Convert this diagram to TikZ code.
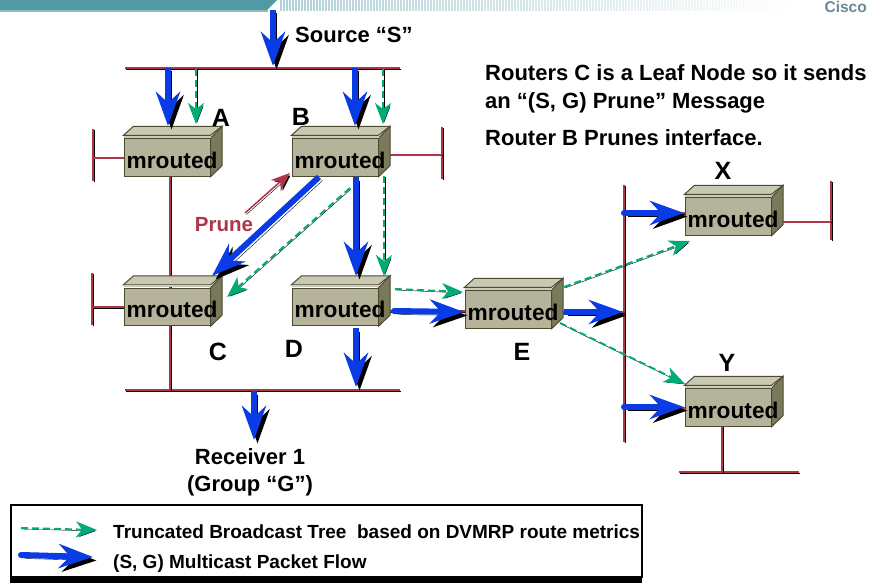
\documentclass[tikz,border=0pt]{standalone}
\usepackage{fontspec}
\setmainfont{Liberation Sans}
\usetikzlibrary{arrows.meta,backgrounds}
\definecolor{busred}{HTML}{AD3549}
\definecolor{flowblue}{HTML}{0A3CE6}
\definecolor{treegreen}{HTML}{00AB78}
\definecolor{bannerteal}{HTML}{5199A3}
\definecolor{boxfront}{HTML}{B5B49A}
\definecolor{boxtop}{HTML}{C9C8B0}
\definecolor{boxside}{HTML}{7A795A}
\definecolor{boxedge}{HTML}{4C4A32}
\tikzset{
  bus/.style={line width=2pt, draw=busred, preaction={draw=black, transform canvas={shift={(1pt,-1pt)}}}},
  flow/.style={line width=6pt, draw=flowblue, -{Stealth[length=34pt,width=24pt,inset=11pt]},
    preaction={draw=black, transform canvas={shift={(3.5pt,-3.5pt)}}}},
  tree/.style={line width=2pt, draw=treegreen, dash pattern=on 7pt off 4pt, -{Stealth[length=21pt,width=16pt,inset=6pt]},
    preaction={draw=black, transform canvas={shift={(1pt,-1pt)}}}},
  prune/.style={line width=1.5pt, draw=busred, -{Stealth[length=19pt,width=15pt,inset=6pt]},
    preaction={draw=black, transform canvas={shift={(1.5pt,-1.5pt)}}}},
  routerbox/.style={draw=boxedge, fill=boxfront, line width=1pt, minimum width=86pt, minimum height=37.5pt, inner sep=0pt},
  routertext/.style={anchor=west, inner sep=3pt, yshift=-2.5pt, font=\fontsize{22.7}{24}\selectfont\bfseries},
  lab/.style={inner sep=0pt, font=\fontsize{25}{27}\selectfont\bfseries},
  txt/.style={inner sep=0pt, align=left, font=\fontsize{22}{27.5}\selectfont\bfseries},
  legendtxt/.style={anchor=west, inner sep=0pt, font=\fontsize{19}{21}\selectfont\bfseries}
}
\newcommand{\router}[2]{%
  \node[routerbox] (#1) at (#2) {};
  \filldraw[draw=boxedge, fill=boxtop, line width=1pt] ([yshift=3pt]#1.north west) -- ([xshift=10pt,yshift=12pt]#1.north west)
    -- ([xshift=11.5pt,yshift=12pt]#1.north east) -- ([yshift=3pt]#1.north east) -- cycle;
  \filldraw[draw=boxedge, fill=boxside, line width=1pt] (#1.north east) -- ([xshift=11.5pt,yshift=12pt]#1.north east)
    -- ([xshift=11.5pt,yshift=11pt]#1.south east) -- (#1.south east) -- cycle;
  \draw[boxfront!70!white, line width=2pt] ([yshift=1.4pt]#1.north west) -- ([yshift=1.4pt]#1.north east);
  \node[routertext] (#1text) at (#1.west) {mrouted};
}
\begin{document}
\begin{tikzpicture}[x=1pt,y=-1pt]
  \useasboundingbox (0,0) rectangle (869,583);
  \clip (0,0) rectangle (869,583);

  % banner
  \foreach \x in {280,283,...,800}{
    \pgfmathsetmacro{\pct}{max(0,45-(\x-280)/11.5)}
    \fill[bannerteal!\pct!white] (\x,0) rectangle (\x+1.6,11);
  }
  \fill[bannerteal!65!white] (0,10) rectangle (268,12);
  \fill[bannerteal] (0,0) -- (277,0) -- (267,10) -- (0,10) -- cycle;
  \node[text=bannerteal!50!gray, font=\fontsize{15.5}{16}\selectfont\bfseries, inner sep=0pt, anchor=east] (logo) at (867,6.5) {Cisco};

  % routers
  \router{A}{167,157.5}
  \router{B}{335,157.5}
  \router{C}{167,307}
  \router{D}{335,307}
  \router{E}{508,309.5}
  \router{X}{728,216.5}
  \router{Y}{728,407.5}

  % coordinates of the free ends
  \coordinate (topL) at (125,68);
  \coordinate (topR) at (400,68);
  \coordinate (lowL) at (125,390);
  \coordinate (lowR) at (400,390);
  \coordinate (midT) at (624,185);
  \coordinate (midB) at (624,442);
  \coordinate (yL) at (679,472);
  \coordinate (yR) at (799,472);
  \coordinate (stubAt) at (93,129);
  \coordinate (stubAb) at (93,181);
  \coordinate (stubBt) at (442,127);
  \coordinate (stubBb) at (442,179);
  \coordinate (stubCt) at (92,273);
  \coordinate (stubCb) at (92,325);
  \coordinate (stubXt) at (831,181);
  \coordinate (stubXb) at (831,240);

  % LAN segments and branches, behind the routers
  \begin{scope}[on background layer]
    \fill[white] (0,0) rectangle (869,583);
    \draw[bus] (topL) -- (topR);
    \draw[bus] (lowL) -- (lowR);
    \draw[bus] (midT) -- (midB);
    \draw[bus] (yL) -- (yR);
    \draw[bus] (stubAt) -- (stubAb);
    \draw[bus] (stubBt) -- (stubBb);
    \draw[bus] (stubCt) -- (stubCb);
    \draw[bus] (stubXt) -- (stubXb);
    \draw[bus] ([xshift=3pt]A.center) -- ([xshift=3pt]C.center);
    \draw[bus] ([xshift=3pt]C.center) -- ([xshift=3pt]C.center |- lowL);
    \draw[bus] (A.center) -- (A.center -| stubAt);
    \draw[bus] ([yshift=3pt]B.east) -- ([yshift=3pt]B.east -| stubBt);
    \draw[bus] (C.center) -- (C.center -| stubCt);
    \draw[bus] ([yshift=-5pt]X.east) -- ([yshift=-5pt]X.east -| stubXt);
    \draw[bus] ([xshift=-6pt]Y.center) -- ([xshift=-6pt]Y.center |- yL);
    \draw[bus] ([yshift=-4pt]D.east) -- ([yshift=-4pt]D.east -| E.west);
    \draw[bus] ([yshift=-2.5pt]E.east) -- ([yshift=-2.5pt]E.east -| midT);
    \draw[bus] ([yshift=3.5pt]X.west) -- ([yshift=3.5pt]X.west -| midT);
    \draw[bus] (Y.west) -- (Y.west -| midT);
  \end{scope}

  % ends of the blue arrows
  \coordinate (srcS) at (273,10);
  \coordinate (srcT) at (273,66);
  \coordinate (aS) at (168,68);
  \coordinate (aT) at (168,126);
  \coordinate (bS) at (355,68);
  \coordinate (bT) at (355,126);
  \coordinate (bcS) at (319,177);
  \coordinate (bcT) at (212,276);
  \coordinate (bdS) at (356,177);
  \coordinate (bdT) at (356,276);
  \coordinate (dlS) at (356,328);
  \coordinate (dlT) at (356,387);
  \coordinate (rcS) at (254,391);
  \coordinate (rcT) at (254,440);
  \coordinate (deS) at (394,311);
  \coordinate (deT) at (464,312);
  \coordinate (emS) at (564,312);
  \coordinate (emT) at (623,312);
  \coordinate (mxS) at (624,213);
  \coordinate (mxT) at (684,213);
  \coordinate (myS) at (624,407);
  \coordinate (myT) at (684,407);
  \draw[flow] (srcS) -- (srcT);
  \draw[flow] (aS) -- (aT);
  \draw[flow] (bS) -- (bT);
  \draw[flow] (bcS) -- (bcT);
  \draw[flow] (bdS) -- (bdT);
  \draw[flow] (dlS) -- (dlT);
  \draw[flow] (rcS) -- (rcT);
  \draw[flow, line cap=round] (deS) -- (deT);
  \draw[flow] (emS) -- (emT);
  \draw[flow, line cap=round] (mxS) -- (mxT);
  \draw[flow, line cap=round] (myS) -- (myT);

  % ends of the green arrows
  \coordinate (gaS) at (196,69);
  \coordinate (gaT) at (196,124);
  \coordinate (gbS) at (383,69);
  \coordinate (gbT) at (383,124);
  \coordinate (gcS) at (350,188);
  \coordinate (gcT) at (227,297);
  \coordinate (gdS) at (384,176);
  \coordinate (gdT) at (384,276);
  \coordinate (geS) at (395,289);
  \coordinate (geT) at (463,292);
  \coordinate (gxS) at (564,287);
  \coordinate (gxT) at (690,241);
  \coordinate (gyS) at (560,323);
  \coordinate (gyT) at (685,384);
  \draw[tree] (gaS) -- (gaT);
  \draw[tree] (gbS) -- (gbT);
  \draw[tree] (gcS) -- (gcT);
  \draw[tree] (gdS) -- (gdT);
  \draw[tree] (geS) -- (geT);
  \draw[tree] (gxS) -- (gxT);
  \draw[tree] (gyS) -- (gyT);

  % prune message
  \coordinate (prS) at (245,213);
  \coordinate (prT) at (290,173);
  \draw[prune] (prS) -- (prT);
  \node[text=busred, inner sep=0pt, font=\fontsize{20.5}{22}\selectfont\bfseries] (pruneLabel) at (224,225) {Prune};

  % labels
  \node[lab] (labA) at (221,118) {A};
  \node[lab] (labB) at (301,117) {B};
  \node[lab] (labC) at (218,352) {C};
  \node[lab] (labD) at (294,349) {D};
  \node[lab] (labE) at (522,352) {E};
  \node[lab] (labX) at (723,171) {X};
  \node[lab] (labY) at (727,363) {Y};
  \node[txt, anchor=west] (source) at (295,35) {Source “S”};
  \node[txt, align=center] (receiver) at (250,472.5) {Receiver 1\\(Group “G”)};
  \node[txt, anchor=west] (note) at (485,89) {Routers C is a Leaf Node so it sends\\an “(S, G) Prune” Message};
  \node[txt, anchor=west] (note2) at (485,138) {Router B Prunes interface.};

  % legend
  \coordinate (legNW) at (11,505);
  \coordinate (legSE) at (642,577);
  \coordinate (legBot) at (10,583);
  \draw[black, line width=1.5pt] (legNW) rectangle (legSE);
  \fill[black] (legBot) rectangle (legSE);
  \coordinate (legGs) at (21,528);
  \coordinate (legGt) at (97,530);
  \coordinate (legBs) at (21,555);
  \coordinate (legBt) at (93,557);
  \draw[tree] (legGs) -- (legGt);
  \draw[flow, line cap=round] (legBs) -- (legBt);
  \node[legendtxt] (legendTree) at (113,532) {Truncated Broadcast Tree\ \ based on DVMRP route metrics};
  \node[legendtxt] (legendFlow) at (113,564) {(S, G) Multicast Packet Flow};
\end{tikzpicture}
\end{document}
